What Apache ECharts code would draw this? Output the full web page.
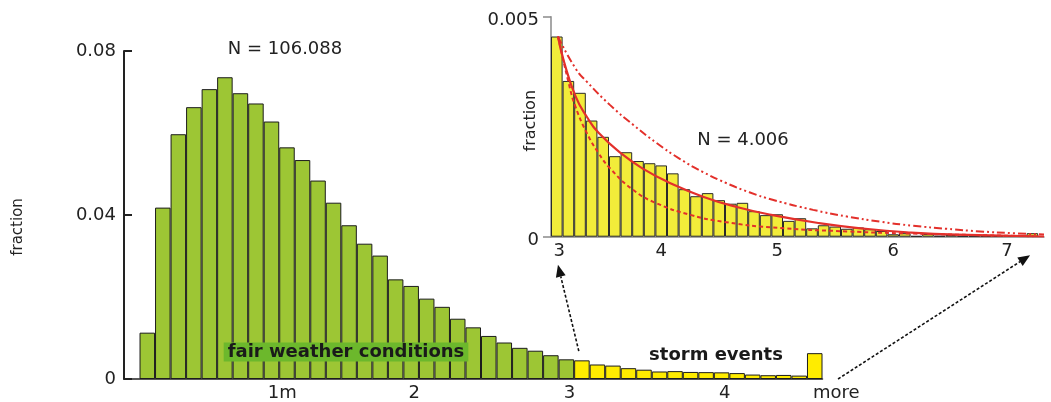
<!DOCTYPE html>
<html>
<head>
<meta charset="utf-8">
<script src="https://cdn.jsdelivr.net/npm/echarts@6/dist/echarts.min.js"></script>
<style>
  html, body { margin: 0; padding: 0; background: #fff; }
  #chart { width: 1051px; height: 402px; }
</style>
</head>
<body>
<div id="chart"></div>
<script>
// Wave-height distribution: all records (main panel) and the storm tail above 3 m (inset)

// main histogram, bins of 0.1 m (left edge of each bin)
const fairBins = [0.2, 0.3, 0.4, 0.5, 0.6, 0.7, 0.8, 0.9, 1.0, 1.1, 1.2, 1.3, 1.4, 1.5,
                  1.6, 1.7, 1.8, 1.9, 2.0, 2.1, 2.2, 2.3, 2.4, 2.5, 2.6, 2.7, 2.8, 2.9];
const fairFraction = [0.0113, 0.0418, 0.0597, 0.0663, 0.0707, 0.0736, 0.0697, 0.0672, 0.0628, 0.0565,
                      0.0534, 0.0484, 0.0430, 0.0375, 0.0330, 0.0301, 0.0243, 0.0227, 0.0196, 0.0176,
                      0.0147, 0.0126, 0.0105, 0.0089, 0.0076, 0.0069, 0.0058, 0.0048];

// storm tail, bins of 0.1 m from 3.0 m
const stormBins = [3.0, 3.1, 3.2, 3.3, 3.4, 3.5, 3.6, 3.7, 3.8, 3.9, 4.0, 4.1, 4.2, 4.3,
                   4.4, 4.5, 4.6, 4.7, 4.8, 4.9, 5.0, 5.1, 5.2, 5.3, 5.4, 5.5, 5.6, 5.7,
                   5.8, 5.9, 6.0, 6.1, 6.2, 6.3, 6.4, 6.5, 6.6, 6.7, 6.8, 6.9, 7.0, 7.1];
const stormFraction = [0.00455, 0.00354, 0.00327, 0.00264, 0.00227, 0.00183, 0.00192, 0.00172, 0.00167, 0.00162,
                       0.00144, 0.00108, 0.00092, 0.00099, 0.00083, 0.00075, 0.00077, 0.00058, 0.00049, 0.00051,
                       0.00036, 0.00042, 0.00019, 0.00026, 0.00023, 0.00018, 0.00021, 0.00017, 0.00013, 0.000055,
                       0.00008, 0.000016, 0.00006, 0.00002, 0.00004, 0.00002, 0.00002, 0.00002, 0.00002, 0.00002,
                       0.00002, 0.00008];
const mainStormCount = 15;          // storm bins shown individually in the main panel (3.0 - 4.5 m)
const moreBin = 4.5;
const moreFraction = 0.0063;        // everything above 4.5 m

// tick labels
const mainTickPos = [1.12, 1.97, 2.97, 3.97, 4.55];
const mainTickText = ['1m', '2', '3', '4', 'more'];
const insetTickPos = [3.07, 3.95, 4.95, 5.95, 6.93];
const insetTickText = ['3', '4', '5', '6', '7'];

// fitted tail distributions [height, fraction]
const fitSolid = [[3.06, 0.00455], [3.11, 0.00400], [3.21, 0.00320], [3.31, 0.00272], [3.41, 0.00236],
                  [3.61, 0.00188], [3.81, 0.00152], [4.01, 0.00124], [4.31, 0.00091], [4.61, 0.00067],
                  [4.91, 0.00049], [5.31, 0.00031], [5.71, 0.00018], [6.10, 0.000095], [6.50, 0.000045],
                  [7.25, 0.000005]];
const fitDashed = [[3.06, 0.00455], [3.16, 0.00341], [3.21, 0.00296], [3.31, 0.00235], [3.41, 0.00190],
                   [3.51, 0.00155], [3.71, 0.00106], [3.91, 0.00076], [4.21, 0.00049], [4.51, 0.00033],
                   [4.91, 0.00021], [5.55, 0.00012], [6.12, 0.00007], [6.70, 0.000035], [7.16, 0.00001]];
const fitDashDot = [[3.06, 0.00455], [3.21, 0.00383], [3.31, 0.00352], [3.51, 0.00299], [3.71, 0.00254],
                    [3.91, 0.00213], [4.11, 0.00177], [4.31, 0.00147], [4.51, 0.00122], [4.71, 0.00101],
                    [4.91, 0.00084], [5.26, 0.00061], [5.55, 0.00046], [5.84, 0.00034], [6.12, 0.00025],
                    [6.41, 0.00018], [6.70, 0.00012], [6.98, 0.00008], [7.25, 0.00005]];

const FONT = 'DejaVu Sans';
const INK = '#222';
const BIN = 0.1;
const mainGrid = { left: 124, top: 51, width: 698.5, height: 328 };
const insetGrid = { left: 551, top: 16.7, width: 493, height: 220 };
const mainMin = 0.1, mainMax = 4.6;
const insetMin = 3, insetMax = 7.25;
const mainBarW = mainGrid.width / ((mainMax - mainMin) / BIN);
const insetBarW = insetGrid.width / ((insetMax - insetMin) / BIN);

const centre = (edges) => edges.map(e => +(e + BIN / 2).toFixed(3));
const pairs = (xs, ys) => xs.map((x, i) => [x, ys[i]]);

const fairData = pairs(centre(fairBins), fairFraction);
const mainStormData = pairs(centre(stormBins.slice(0, mainStormCount)), stormFraction.slice(0, mainStormCount));
const moreData = [[+(moreBin + BIN / 2).toFixed(3), moreFraction]];
const insetData = pairs(centre(stormBins), stormFraction);

const barBorder = { borderColor: '#1c1c1c', borderWidth: 1 };
const RED = '#e3302b';

const chart = echarts.init(document.getElementById('chart'), null, { renderer: 'canvas' });

chart.setOption({
  animation: false,
  backgroundColor: '#fff',
  textStyle: { fontFamily: FONT },
  grid: [
    Object.assign({}, mainGrid),
    Object.assign({}, insetGrid)
  ],
  xAxis: [
    {
      type: 'value', gridIndex: 0, min: mainMin, max: mainMax,
      axisLine: { show: true, lineStyle: { color: INK, width: 1.5 } },
      axisTick: { show: false },
      splitLine: { show: false },
      axisLabel: {
        customValues: mainTickPos,
        formatter: v => {
          const t = mainTickText[mainTickPos.indexOf(v)];
          return t === 'more' ? '{more|' + t + '}' : t;
        },
        rich: { more: { fontSize: 18, fontFamily: FONT, color: INK, padding: [0, 0, 0, 43] } },
        color: INK, fontSize: 18, fontFamily: FONT, margin: 5
      }
    },
    {
      type: 'value', gridIndex: 1, min: insetMin, max: insetMax,
      axisLine: { show: true, lineStyle: { color: '#8a8a8a', width: 1.5 } },
      axisTick: { show: false },
      splitLine: { show: false },
      axisLabel: {
        customValues: insetTickPos,
        formatter: v => insetTickText[insetTickPos.indexOf(v)],
        color: INK, fontSize: 18, fontFamily: FONT, margin: 6
      }
    }
  ],
  yAxis: [
    {
      type: 'value', gridIndex: 0, min: 0, max: 0.08, interval: 0.04,
      name: 'fraction', nameLocation: 'middle', nameGap: 98, nameMoveOverlap: false,
      nameTextStyle: { color: INK, fontSize: 15, fontFamily: FONT, padding: [0, 24, 0, 0] },
      axisLine: { show: true, lineStyle: { color: INK, width: 2 } },
      axisTick: { show: true, inside: true, length: 8, lineStyle: { color: INK, width: 2 } },
      splitLine: { show: false },
      axisLabel: { color: INK, fontSize: 18, fontFamily: FONT, margin: 8 }
    },
    {
      type: 'value', gridIndex: 1, min: 0, max: 0.005, interval: 0.005,
      name: 'fraction', nameLocation: 'middle', nameGap: 12, nameMoveOverlap: false,
      nameTextStyle: { color: INK, fontSize: 16, fontFamily: FONT, padding: [0, 0, 0, 12] },
      axisLine: { show: true, lineStyle: { color: '#8a8a8a', width: 1.5 } },
      axisTick: { show: true, length: 8, lineStyle: { color: '#8a8a8a', width: 1.5 } },
      splitLine: { show: false },
      axisLabel: {
        formatter: v => '{v|' + v + '}',
        rich: { v: { fontSize: 18, fontFamily: FONT, color: INK, padding: [8, 0, 0, 0] } },
        color: INK, fontSize: 18, fontFamily: FONT, margin: 12
      }
    }
  ],
  series: [
    {
      name: 'fair weather', type: 'bar', xAxisIndex: 0, yAxisIndex: 0,
      data: fairData, barWidth: mainBarW, barGap: '-100%',
      itemStyle: Object.assign({ color: '#9dc634' }, barBorder)
    },
    {
      name: 'storm', type: 'bar', xAxisIndex: 0, yAxisIndex: 0,
      data: mainStormData, barWidth: mainBarW, barGap: '-100%',
      itemStyle: Object.assign({ color: '#ffec00' }, barBorder)
    },
    {
      name: 'more', type: 'bar', xAxisIndex: 0, yAxisIndex: 0,
      data: moreData, barWidth: mainBarW, barGap: '-100%',
      itemStyle: Object.assign({ color: '#ffec00' }, barBorder)
    },
    {
      name: 'storm detail', type: 'bar', xAxisIndex: 1, yAxisIndex: 1,
      data: insetData, barWidth: insetBarW,
      itemStyle: { color: '#f2ec3a', borderColor: '#2a2a2a', borderWidth: 1 }
    },
    {
      name: 'fit', type: 'line', xAxisIndex: 1, yAxisIndex: 1, z: 5,
      data: fitSolid, symbol: 'none', smooth: 0.5,
      lineStyle: { color: RED, width: 2.2 }
    },
    {
      name: 'fit (steep)', type: 'line', xAxisIndex: 1, yAxisIndex: 1, z: 5,
      data: fitDashed, symbol: 'none', smooth: 0.5,
      lineStyle: { color: RED, width: 2, type: [4, 3] }
    },
    {
      name: 'fit (flat)', type: 'line', xAxisIndex: 1, yAxisIndex: 1, z: 5,
      data: fitDashDot, symbol: 'none', smooth: 0.5,
      lineStyle: { color: RED, width: 2, type: [8, 3, 2, 3, 2, 3] }
    }
  ]
});

// annotations: sample sizes, regime labels and the arrows linking the panels
function arrow(from, to) {
  const dx = to[0] - from[0], dy = to[1] - from[1];
  const len = Math.sqrt(dx * dx + dy * dy);
  const ux = dx / len, uy = dy / len;
  const head = 12, half = 5;
  const bx = to[0] - ux * head, by = to[1] - uy * head;
  return [
    {
      type: 'line', z: 20,
      shape: { x1: from[0], y1: from[1], x2: bx, y2: by },
      style: { stroke: '#111', lineWidth: 1.6, lineDash: [3, 2] }
    },
    {
      type: 'polygon', z: 20,
      shape: { points: [to, [bx - uy * half, by + ux * half], [bx + uy * half, by - ux * half]] },
      style: { fill: '#111' }
    }
  ];
}

const a1from = chart.convertToPixel({ gridIndex: 0 }, [3.03, 0.0068]);
const a1to = chart.convertToPixel({ gridIndex: 1 }, [3.06, -0.00064]);
const a2from = chart.convertToPixel({ gridIndex: 0 }, [4.70, 0.0]);
const a2to = chart.convertToPixel({ gridIndex: 1 }, [7.13, -0.00042]);

chart.setOption({
  graphic: [
    {
      type: 'text', x: 285, y: 49, z: 20,
      style: { text: 'N = 106.088', font: '18px "DejaVu Sans"', fill: INK, align: 'center', verticalAlign: 'middle' }
    },
    {
      type: 'text', x: 743, y: 140, z: 20,
      style: { text: 'N = 4.006', font: '18px "DejaVu Sans"', fill: INK, align: 'center', verticalAlign: 'middle' }
    },
    {
      type: 'text', x: 346, y: 352, z: 20,
      style: {
        text: 'fair weather conditions', font: 'bold 18px "DejaVu Sans"', fill: '#1a1a1a',
        align: 'center', verticalAlign: 'middle',
        backgroundColor: '#6cb82c', padding: [0, 4, 0, 4], lineHeight: 19
      }
    },
    {
      type: 'text', x: 716, y: 355, z: 20,
      style: { text: 'storm events', font: 'bold 18px "DejaVu Sans"', fill: '#1a1a1a', align: 'center', verticalAlign: 'middle' }
    }
  ].concat(arrow(a1from, a1to), arrow(a2from, a2to))
});
</script>
</body>
</html>
